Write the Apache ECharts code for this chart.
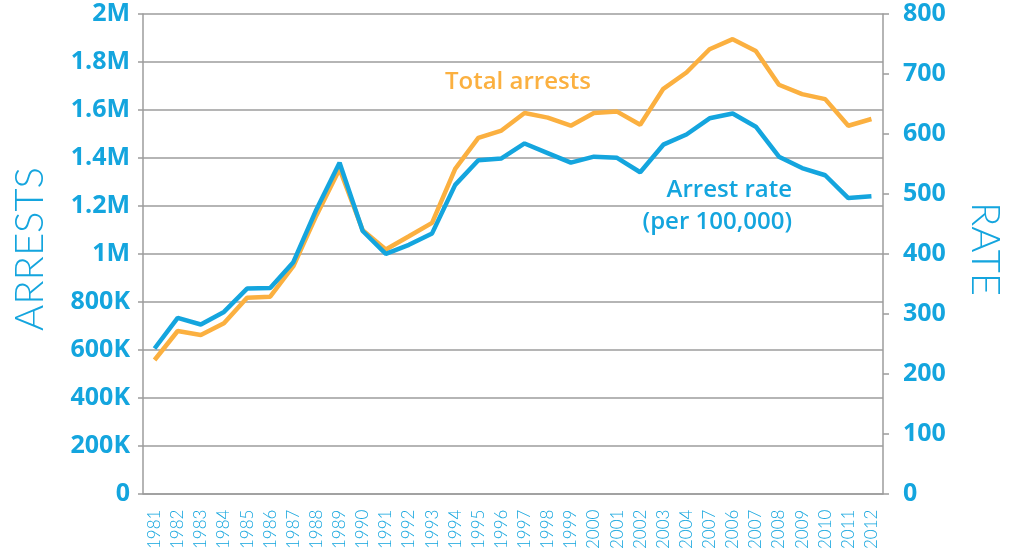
<!DOCTYPE html>
<html>
<head>
  <meta charset="utf-8">
  <title>Arrests and arrest rate 1981-2012</title>
  <script src="https://cdn.jsdelivr.net/npm/echarts@6/dist/echarts.min.js"></script>
  <style>
    html, body { margin: 0; padding: 0; background: #fff; }
    #main { width: 1010px; height: 552px; }
  </style>
</head>
<body>
  <div id="main"></div>
  <script>
  // tick labels as printed (the source repeats 2007 where 2005 belongs)
  var years = ['1981','1982','1983','1984','1985','1986','1987','1988','1989','1990',
               '1991','1992','1993','1994','1995','1996','1997','1998','1999','2000',
               '2001','2002','2003','2004','2007','2006','2007','2008','2009','2010',
               '2011','2012'];

  // total arrests
  var arrests = [557000, 678000, 661000, 710000, 817000, 821000, 948000, 1160000, 1354000, 1098000,
                 1018000, 1073000, 1129000, 1354000, 1483000, 1514000, 1587000, 1568000, 1534000, 1587000,
                 1593000, 1538000, 1688000, 1756000, 1853000, 1895000, 1846000, 1705000, 1666000, 1645000,
                 1534000, 1562000];

  // arrest rate per 100,000
  var rates = [242, 293, 282, 303, 342, 343, 386, 474, 552, 438,
               400, 415, 434, 515, 556, 559, 584, 568, 552, 562,
               560, 536, 582, 599, 626, 634, 612, 562, 543, 531,
               493, 496];

  var blue = '#14a5de';
  var orange = '#fbb040';
  var grey = '#9c9c9c';

  var myChart = echarts.init(document.getElementById('main'));
  myChart.setOption({
    animation: false,
    grid: { left: 143, top: 14, width: 740, height: 480.5 },
    xAxis: {
      type: 'category',
      data: years,
      boundaryGap: true,
      axisLine: { lineStyle: { color: grey, width: 1.5 } },
      axisTick: { length: 6, lineStyle: { color: grey, width: 1.5 } },
      axisLabel: {
        rotate: 90, margin: 16, interval: 0,
        color: blue, fontFamily: 'Lato', fontWeight: 300, fontSize: 17
      }
    },
    yAxis: [{
      type: 'value', min: 0, max: 2000000, interval: 200000,
      axisLine: { show: true, lineStyle: { color: grey, width: 1.5 } },
      axisTick: { show: true, length: 5, lineStyle: { color: grey, width: 1.5 } },
      splitLine: { lineStyle: { color: grey, width: 1.5 } },
      axisLabel: {
        margin: 13, color: blue, fontFamily: 'Open Sans', fontWeight: 'bold', fontSize: 25,
        formatter: function (v) {
          if (v === 0) return '0';
          if (v >= 1000000) return (v / 1000000) + 'M';
          return (v / 1000) + 'K';
        }
      }
    }, {
      type: 'value', min: 0, max: 800, interval: 100, position: 'right',
      axisLine: { show: true, lineStyle: { color: grey, width: 1.5 } },
      axisTick: { show: true, length: 6, lineStyle: { color: grey, width: 1.5 } },
      splitLine: { show: false },
      axisLabel: { margin: 20, color: blue, fontFamily: 'Open Sans', fontWeight: 'bold', fontSize: 25 }
    }],
    series: [{
      name: 'Total arrests',
      type: 'line',
      yAxisIndex: 0,
      data: arrests,
      showSymbol: false,
      lineStyle: { color: orange, width: 4.5 },
      z: 2
    }, {
      name: 'Arrest rate',
      type: 'line',
      yAxisIndex: 1,
      data: rates,
      showSymbol: false,
      lineStyle: { color: blue, width: 4.5 },
      z: 3
    }],
    graphic: [{
      type: 'text', x: 30, y: 249, rotation: Math.PI / 2,
      style: { text: 'ARRESTS', fill: blue, font: '300 40px Lato', align: 'center', verticalAlign: 'middle' }
    }, {
      type: 'text', x: 985, y: 249, rotation: -Math.PI / 2,
      style: { text: 'RATE', fill: blue, font: '300 40px Lato', align: 'center', verticalAlign: 'middle' }
    }, {
      type: 'text', x: 445, y: 82,
      style: { text: 'Total arrests', fill: orange, font: '600 24px "Open Sans"', align: 'left', verticalAlign: 'middle' }
    }, {
      type: 'text', x: 792, y: 206,
      style: { text: 'Arrest rate\n(per 100,000)', fill: blue, font: '600 24px "Open Sans"', lineHeight: 32, align: 'right', verticalAlign: 'middle' }
    }]
  });
  </script>
</body>
</html>
